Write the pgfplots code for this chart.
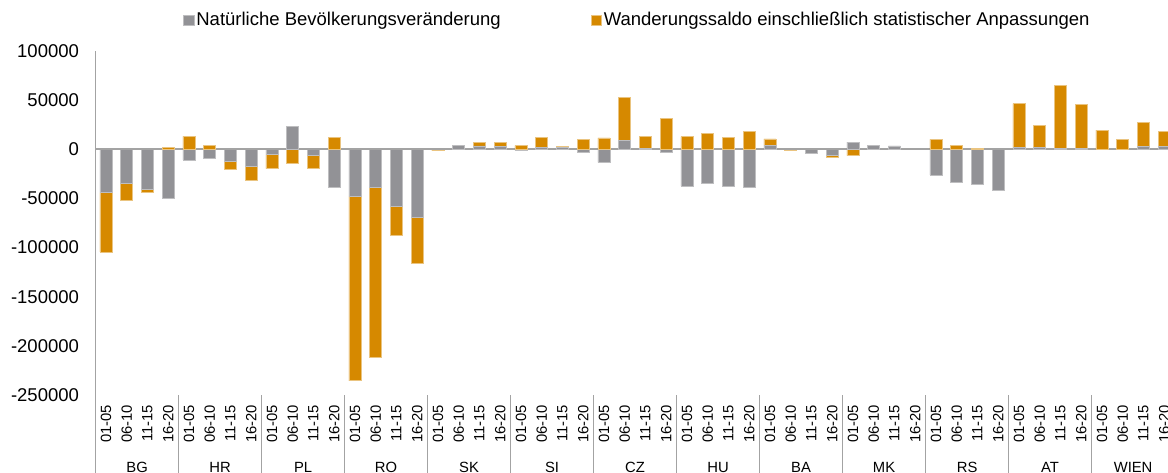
\documentclass[border=0pt]{standalone}
\usepackage{fontspec}
\setmainfont{Liberation Sans}
\usepackage{pgfplots}
\usepackage{pgfplotstable}
\pgfplotsset{compat=1.18}

\definecolor{natgray}{HTML}{929296}
\definecolor{wanor}{HTML}{D68900}
\definecolor{axgray}{HTML}{A3A3A3}
\newcommand{\tickfont}{\fontsize{9.25}{11}\selectfont}
\newcommand{\catfont}{\fontsize{7.4}{9}\selectfont}

% x = category index, gn/on = negative parts, gp/op = positive parts
\pgfplotstableread{
x gn on gp op
0 -44000 -60300 0 0
1 -34500 -17800 0 0
2 -41100 -2500 0 0
3 -49800 0 0 2300
4 -10700 0 0 13200
5 -8900 0 0 4100
6 -12000 -8100 0 0
7 -16800 -14500 0 0
8 -5400 -14300 0 0
9 0 -13900 23400 0
10 -6400 -13000 0 0
11 -38300 0 0 12200
12 -47500 -188000 0 0
13 -38300 -173700 0 0
14 -57600 -30100 0 0
15 -69400 -46100 0 0
16 0 -1500 0 0
17 0 0 4100 0
18 0 0 3400 3500
19 0 0 2700 4100
20 -1000 0 0 3800
21 0 0 2300 10200
22 0 0 2000 1000
23 -2700 0 0 10200
24 -13200 0 0 11500
25 0 0 9400 43400
26 0 0 1000 12200
27 -2700 0 0 31500
28 -37600 0 0 12900
29 -34500 0 0 16000
30 -37900 0 0 11900
31 -38600 0 0 18000
32 0 0 3800 6700
33 0 -600 0 0
34 -4400 0 0 0
35 -6400 -1700 0 0
36 0 -6400 7400 0
37 0 0 4100 0
38 0 0 3400 0
39 0 0 0 0
40 -26100 0 0 10200
41 -33800 0 0 3800
42 -35900 0 0 1000
43 -41400 0 0 0
44 0 0 2000 44400
45 0 0 2000 22000
46 0 0 1000 63700
47 0 0 700 45300
48 0 0 0 19600
49 0 0 0 10000
50 0 0 2700 24700
51 0 0 3300 14500
}\bevtable

\pgfplotsset{
  bars/.style={
    scale only axis, width=539.5pt, height=172pt,
    xmin=-0.5, xmax=51.5, ymin=-250000, ymax=100000,
    ybar stacked, bar width=6pt, clip=false,
  },
  sqleg/.style={legend image code/.code={\fill[##1] (0pt,-2.6pt) rectangle (5.2pt,2.6pt);}},
}

\begin{document}
\begin{tikzpicture}
% negative parts, axes, labels, legend
\begin{axis}[bars,
  axis x line*=bottom, axis y line*=left,
  x axis line style={draw=none},
  y axis line style={axgray, line width=0.85pt},
  major tick length=0pt,
  scaled y ticks=false,
  ytick={-250000,-200000,-150000,-100000,-50000,0,50000,100000},
  yticklabels={-250000,-200000,-150000,-100000,-50000,0,50000,100000},
  yticklabel style={font=\tickfont, xshift=-4.8pt},
  xtick={0,...,51},
  xticklabels={01-05,06-10,11-15,16-20,01-05,06-10,11-15,16-20,01-05,06-10,11-15,16-20,
    01-05,06-10,11-15,16-20,01-05,06-10,11-15,16-20,01-05,06-10,11-15,16-20,
    01-05,06-10,11-15,16-20,01-05,06-10,11-15,16-20,01-05,06-10,11-15,16-20,
    01-05,06-10,11-15,16-20,01-05,06-10,11-15,16-20,01-05,06-10,11-15,16-20,
    01-05,06-10,11-15,16-20},
  xticklabel style={font=\catfont, rotate=90, anchor=east, xshift=-1.5pt},
  legend columns=2,
  legend style={at={(rel axis cs:0.0810,1.0901)}, anchor=west, draw=none, fill=none,
    inner sep=0pt, font=\tickfont, nodes={inner xsep=1pt, inner ysep=0pt},
    /tikz/every even column/.append style={column sep=44pt}},
  legend cell align=left,
]
\addplot[fill=natgray, draw=natgray!60!white, line width=0.3pt, sqleg] table[x=x, y=gn] {\bevtable};
\addlegendentry{Natürliche Bevölkerungsveränderung}
\addplot[fill=wanor, draw=wanor!50!white, line width=0.3pt, sqleg] table[x=x, y=on] {\bevtable};
\addlegendentry{Wanderungssaldo einschließlich statistischer Anpassungen}

\draw[axgray, line width=0.85pt] (axis cs:-0.5,-250000) -- ++(0pt,-45pt);
\pgfplotsinvokeforeach{3.5,7.5,...,47.5}{
  \draw[axgray, line width=0.75pt] (axis cs:#1,-250000) -- ++(0pt,-45pt);
}
\node[font=\catfont, anchor=base, yshift=-38.65pt] at (axis cs:1.5,-250000) {BG};
\node[font=\catfont, anchor=base, yshift=-38.65pt] at (axis cs:5.5,-250000) {HR};
\node[font=\catfont, anchor=base, yshift=-38.65pt] at (axis cs:9.5,-250000) {PL};
\node[font=\catfont, anchor=base, yshift=-38.65pt] at (axis cs:13.5,-250000) {RO};
\node[font=\catfont, anchor=base, yshift=-38.65pt] at (axis cs:17.5,-250000) {SK};
\node[font=\catfont, anchor=base, yshift=-38.65pt] at (axis cs:21.5,-250000) {SI};
\node[font=\catfont, anchor=base, yshift=-38.65pt] at (axis cs:25.5,-250000) {CZ};
\node[font=\catfont, anchor=base, yshift=-38.65pt] at (axis cs:29.5,-250000) {HU};
\node[font=\catfont, anchor=base, yshift=-38.65pt] at (axis cs:33.5,-250000) {BA};
\node[font=\catfont, anchor=base, yshift=-38.65pt] at (axis cs:37.5,-250000) {MK};
\node[font=\catfont, anchor=base, yshift=-38.65pt] at (axis cs:41.5,-250000) {RS};
\node[font=\catfont, anchor=base, yshift=-38.65pt] at (axis cs:45.5,-250000) {AT};
\node[font=\catfont, anchor=base, yshift=-38.65pt] at (axis cs:49.5,-250000) {WIEN};
\end{axis}

% positive parts, stacked from zero
\begin{axis}[bars, hide axis]
\addplot[fill=natgray, draw=natgray!60!white, line width=0.3pt] table[x=x, y=gp] {\bevtable};
\addplot[fill=wanor, draw=wanor!50!white, line width=0.3pt] table[x=x, y=op] {\bevtable};
\draw[axgray, line width=0.9pt] (axis cs:-0.5,0) -- (axis cs:51.5,0);
\end{axis}

\pgfresetboundingbox
\path[use as bounding box] (-47.8pt,-38.5pt) rectangle (536.2pt,197.5pt);
\end{tikzpicture}
\end{document}
